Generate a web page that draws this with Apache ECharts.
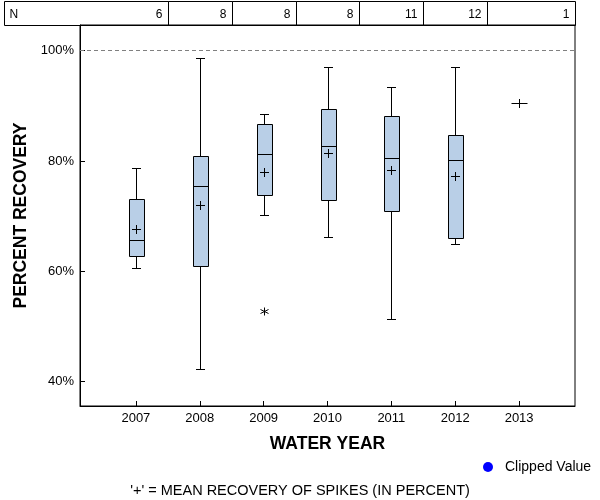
<!DOCTYPE html>
<html>
<head>
<meta charset="utf-8">
<script src="https://cdn.jsdelivr.net/npm/echarts@6/dist/echarts.min.js"></script>
<style>html,body{margin:0;padding:0;background:#fff}#c{width:600px;height:500px}</style>
</head>
<body>
<div id="c"></div>
<script>
// ---- data ----
const years       = [2007, 2008, 2009, 2010, 2011, 2012, 2013];
const nCounts     = [6, 8, 8, 8, 11, 12, 1];
const whiskerLow  = [60.7, 42.3, 70.3, 66.2, 51.4, 65.0, null];
const q1          = [62.7, 60.9, 73.8, 72.9, 70.9, 66.0, null];
const medians     = [65.6, 75.4, 81.2, 82.7, 80.5, 80.2, null];
const q3          = [73.2, 80.9, 86.7, 89.4, 88.1, 84.7, null];
const whiskerHigh = [78.7, 98.6, 88.5, 97.0, 93.4, 97.0, null];
const means       = [67.7, 72.0, 78.1, 81.5, 78.4, 77.2, 90.6];
const outlierYears  = [2009];
const outlierValues = [52.9];
const yTicks      = [40, 60, 80, 100];
const refLine     = 100;
const xTitle = 'WATER YEAR';
const yTitle = 'PERCENT RECOVERY';
const footer = "'+' = MEAN RECOVERY OF SPIKES (IN PERCENT)";
const legendName = 'Clipped Value';

// ---- layout ----
const FONT = 'Liberation Sans, Arial, Helvetica, sans-serif';
const X_MIN = years[0] - 0.875, X_MAX = years[years.length - 1] + 0.875;
const plotLeft = 80, plotRight = 575, tableLeft = 4;
const pxPerYear = (plotRight - plotLeft) / (X_MAX - X_MIN);
const TABLE_MIN = X_MAX - (plotRight - tableLeft) / pxPerYear;

const boxData = [], meanData = [], singleData = [], tableData = [];
years.forEach((y, i) => {
  tableData.push([y, nCounts[i]]);
  if (nCounts[i] > 1) {
    boxData.push([y, whiskerLow[i], q1[i], medians[i], q3[i], whiskerHigh[i]]);
    meanData.push([y, means[i]]);
  } else {
    singleData.push([y, means[i]]);
  }
});
const outlierData = outlierYears.map((y, i) => [y, outlierValues[i]]);

const H = v => Math.round(v) + 0.5;
const LS = {stroke: '#000', lineWidth: 1};
function line(x1, y1, x2, y2) {
  return {type: 'line', shape: {x1, y1, x2, y2}, style: LS};
}

function renderBox(params, api) {
  const x = api.value(0);
  const lo = api.coord([x, api.value(1)]);
  const b1 = api.coord([x, api.value(2)]);
  const md = api.coord([x, api.value(3)]);
  const b3 = api.coord([x, api.value(4)]);
  const hi = api.coord([x, api.value(5)]);
  const cx = H(lo[0]);
  const bw = 15, cw = 9;
  const yl = H(lo[1]), y1 = H(b1[1]), ym = H(md[1]), y3 = H(b3[1]), yh = H(hi[1]);
  return {type: 'group', children: [
    line(cx, yh, cx, y3),
    line(cx, y1, cx, yl),
    line(cx - cw / 2, yh, cx + cw / 2, yh),
    line(cx - cw / 2, yl, cx + cw / 2, yl),
    {type: 'rect', shape: {x: Math.round(cx - bw / 2) + 0.5, y: y3, width: bw, height: y1 - y3},
     style: {fill: '#B9CFE7', stroke: '#000', lineWidth: 1}},
    line(Math.round(cx - bw / 2) + 0.5, ym, Math.round(cx - bw / 2) + 0.5 + bw, ym)
  ]};
}
function plusRenderer(hw, hh) {
  return function (params, api) {
    const p = api.coord([api.value(0), api.value(1)]);
    const cx = H(p[0]), cy = H(p[1]);
    return {type: 'group', children: [
      line(cx - hw, cy, cx + hw, cy),
      line(cx, cy - hh, cx, cy + hh)
    ]};
  };
}
function renderStar(params, api) {
  const p = api.coord([api.value(0), api.value(1)]);
  const cx = H(p[0]), cy = H(p[1]);
  return {type: 'group', children: [
    line(cx, cy - 4, cx, cy + 4),
    line(cx - 4, cy - 2, cx + 4, cy + 2),
    line(cx - 4, cy + 2, cx + 4, cy - 2)
  ]};
}
function renderCell(params, api) {
  const cs = params.coordSys;
  const yr = api.value(0);
  const i = params.dataIndex;
  const isFirst = i === 0, isLast = i === tableData.length - 1;
  const l = isFirst ? cs.x : api.coord([yr - 0.5, 0])[0];
  const r = isLast ? cs.x + cs.width : api.coord([yr + 0.5, 0])[0];
  const t = cs.y, b = cs.y + cs.height;
  const L = Math.round(l) + 0.5, R = Math.round(r) + 0.5, T = Math.round(t) + 0.5, B = Math.round(b) + 0.5;
  const children = [
    {type: 'rect', shape: {x: L, y: T, width: R - L, height: B - T}, style: {fill: null, stroke: '#000', lineWidth: 1}},
    {type: 'text', style: {text: String(api.value(1)), x: R - 6, y: (T + B) / 2 + 1, align: 'right', verticalAlign: 'middle',
      fontSize: 12, fontFamily: FONT, fill: '#000'}}
  ];
  if (isFirst) {
    children.push({type: 'text', style: {text: 'N', x: L + 5, y: (T + B) / 2 + 1, align: 'left', verticalAlign: 'middle',
      fontSize: 12, fontFamily: FONT, fill: '#000'}});
  }
  return {type: 'group', children};
}

const chart = echarts.init(document.getElementById('c'), null, {renderer: 'canvas'});
chart.setOption({
  animation: false,
  backgroundColor: '#fff',
  textStyle: {fontFamily: FONT},
  title: {text: footer, left: 'center', top: 483, padding: 0,
    textStyle: {fontSize: 14.5, fontWeight: 'normal', color: '#000', fontFamily: FONT}},
  legend: {data: [legendName], left: 483, top: 460, padding: 0, itemWidth: 10, itemHeight: 10, icon: 'circle',
    itemStyle: {color: '#0000FF', opacity: 1},
    textStyle: {fontSize: 14, color: '#000', fontFamily: FONT, padding: [0, 0, 0, 7]}},
  grid: [
    {left: plotLeft, right: 600 - plotRight, top: 25, bottom: 94, show: true, borderColor: '#000', borderWidth: 1},
    {left: tableLeft, right: 600 - plotRight, top: 1, height: 24, show: false}
  ],
  xAxis: [
    {type: 'value', gridIndex: 0, min: X_MIN, max: X_MAX, splitLine: {show: false},
      axisLine: {show: true, lineStyle: {color: '#000'}},
      axisTick: {show: true, inside: true, length: 5, customValues: years, lineStyle: {color: '#000'}},
      axisLabel: {customValues: years, formatter: v => String(v), color: '#000', fontSize: 13, margin: 6, fontFamily: FONT},
      name: xTitle, nameLocation: 'middle', nameGap: 29,
      nameTextStyle: {fontWeight: 'bold', fontSize: 17.5, color: '#000', fontFamily: FONT}},
    {type: 'value', gridIndex: 1, min: TABLE_MIN, max: X_MAX, show: false}
  ],
  yAxis: [
    {type: 'value', gridIndex: 0, min: 35.6, max: 104.66, splitLine: {show: false},
      axisLine: {show: true, lineStyle: {color: '#000'}},
      axisTick: {show: true, inside: true, length: 5, customValues: yTicks, lineStyle: {color: '#000'}},
      axisLabel: {customValues: yTicks, formatter: v => v + '%', color: '#000', fontSize: 13, margin: 6, fontFamily: FONT},
      name: yTitle, nameLocation: 'middle', nameGap: 44,
      nameTextStyle: {fontWeight: 'bold', fontSize: 17.5, color: '#000', fontFamily: FONT}},
    {type: 'value', gridIndex: 1, min: 0, max: 1, show: false}
  ],
  series: [
    {type: 'custom', xAxisIndex: 0, yAxisIndex: 0, data: boxData, renderItem: renderBox, clip: false,
      markLine: {silent: true, symbol: ['none', 'none'], label: {show: false},
        lineStyle: {color: '#808080', type: [4, 3], width: 1}, data: [{yAxis: refLine}]}},
    {type: 'custom', xAxisIndex: 0, yAxisIndex: 0, data: meanData, renderItem: plusRenderer(4.5, 4.5), z: 3},
    {type: 'custom', xAxisIndex: 0, yAxisIndex: 0, data: singleData, renderItem: plusRenderer(8, 4.5), z: 3},
    {type: 'custom', xAxisIndex: 0, yAxisIndex: 0, data: outlierData, renderItem: renderStar, z: 3},
    {type: 'custom', xAxisIndex: 1, yAxisIndex: 1, data: tableData, renderItem: renderCell, clip: false},
    {type: 'scatter', name: legendName, data: [], itemStyle: {color: '#0000FF', opacity: 1}}
  ]
});
</script>
</body>
</html>
